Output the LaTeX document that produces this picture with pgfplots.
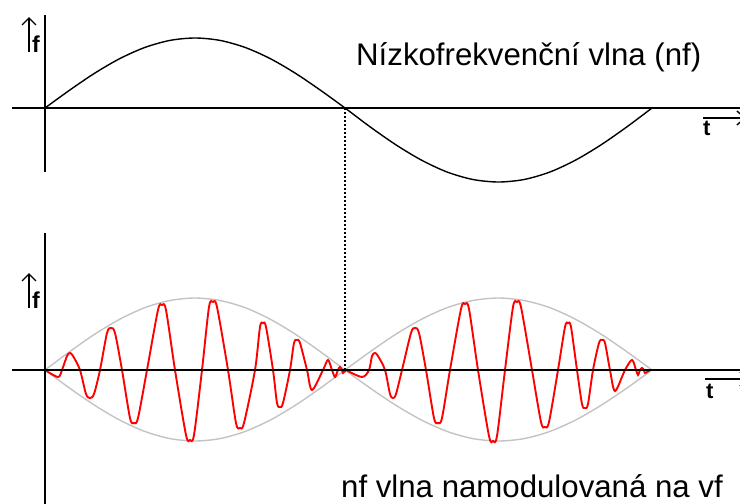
\documentclass[border=0pt]{standalone}
\usepackage{pgfplots}
\pgfplotsset{compat=1.18}
\usetikzlibrary{arrows.meta}
\usepackage{fontspec}
\setmainfont{Liberation Sans}
\definecolor{envgray}{RGB}{195,195,195}
\begin{document}
\begin{tikzpicture}
\useasboundingbox (0,0) rectangle (740pt,504pt);
\begin{axis}[at={(0,0)}, anchor=south west, x=1pt, y=1pt, y dir=reverse,
  xmin=0, xmax=740, ymin=0, ymax=504, hide axis, scale only axis, clip=true]
% envelope (gray)
\addplot[envgray, line width=1.4pt, smooth] coordinates {(45,370)(70,351.4)(95,334)(120,319.1)(145,307.6)(170,300.5)(195,298)(220,300.5)(245,307.6)(270,319.1)(295,334)(320,351.4)(345,370)};
\addplot[envgray, line width=1.4pt, smooth] coordinates {(345,370)(370.6,351.4)(396.2,334)(421.8,319.1)(447.3,307.6)(472.9,300.5)(498.5,298)(524.1,300.5)(549.7,307.6)(575.2,319.1)(600.8,334)(626.4,351.4)(652,370)};
\addplot[envgray, line width=1.4pt, smooth] coordinates {(45,370)(70,388.4)(95,405.5)(120,420.2)(145,431.5)(170,438.6)(195,441)(220,438.6)(245,431.5)(270,420.2)(295,405.5)(320,388.4)(345,370)};
\addplot[envgray, line width=1.4pt, smooth] coordinates {(345,370)(370.6,388.4)(396.2,405.5)(421.8,420.2)(447.3,431.5)(472.9,438.6)(498.5,441)(524.1,438.6)(549.7,431.5)(575.2,420.2)(600.8,405.5)(626.4,388.4)(652,370)};
% modulated carrier (red)
\addplot[red, line width=1.9pt, smooth] coordinates {(45,370)(58,377)(62,370)(67,356)(70,353)(73,356)(80,370)(86,394)(90,398)(94,394)(100,370)(107,333)(111,328)(115,333)(122,370)(130,418)(134,423)(138,418)(147,370)(158,310)(162,305)(166,310)(175,370)(186,435)(190,440)(194,435)(202,370)(209,307)(213,302)(217,307)(228,370)(236,423)(240,428)(244,423)(255,370)(260,327)(263,323)(266,327)(273,370)(277,403)(280,407)(283,403)(290,370)(294,343)(297,340)(300,343)(307,370)(312,390)(323,370)(328,360)(332,370)(335,377)(338,370)(340,367)(342,370)(343,373)(346,370)};
\addplot[red, line width=1.9pt, smooth] coordinates {(346,370)(362,377)(369,370)(372,356)(375,353)(378,356)(385,370)(390,394)(393,398)(396,394)(402,370)(411,333)(415,328)(419,333)(426,370)(434,418)(438,423)(442,418)(450,370)(461,309)(465,304)(469,309)(478,370)(489,436)(493,441)(497,436)(505,370)(513,307)(517,302)(521,307)(532,370)(541,422)(545,427)(549,422)(558,370)(565,327)(568,323)(571,327)(577,370)(582,404)(585,408)(588,404)(593,370)(599,343)(602,340)(605,343)(610,370)(615,391)(625,370)(632,360)(636,370)(638,375)(640,370)(642,368)(644,370)(645,373)(650,370)};
% low-frequency sine (black)
\addplot[black, line width=1.4pt, smooth] coordinates {(45,108)(70,89.9)(95,73)(120,58.5)(145,47.4)(170,40.4)(195,38)(220,40.4)(245,47.4)(270,58.5)(295,73)(320,89.9)(345,108)(370.6,127.2)(396.2,145)(421.8,160.3)(447.3,172.1)(472.9,179.5)(498.5,182)(524.1,179.5)(549.7,172.1)(575.2,160.3)(600.8,145)(626.4,127.2)(652,108)};
% dotted connector
\addplot[black, line width=1.4pt, dash pattern=on 2pt off 2pt] coordinates {(345,108)(345,370)};
% axes
\addplot[black, line width=2pt] coordinates {(12,108)(740,108)};
\addplot[black, line width=2pt] coordinates {(45,15)(45,172)};
\addplot[black, line width=2pt] coordinates {(12,370)(740,370)};
\addplot[black, line width=2pt] coordinates {(45,233)(45,504)};
% axis label arrows
\addplot[black, line width=1.4pt, -{Straight Barb[length=7pt,width=14pt]}] coordinates {(29,52)(29,17)};
\addplot[black, line width=1.4pt, -{Straight Barb[length=7pt,width=14pt]}] coordinates {(29,308)(29,273)};
\addplot[black, line width=1.4pt, -{Straight Barb[length=8pt,width=14pt]}] coordinates {(703,118)(746,118)};
\addplot[black, line width=1.4pt, -{Straight Barb[length=8pt,width=14pt]}] coordinates {(705,379)(749,379)};
% labels
\node[anchor=base west, inner sep=0, font=\fontsize{23}{26}\selectfont\bfseries] at (axis cs:32,52) {f};
\node[anchor=base west, inner sep=0, font=\fontsize{23}{26}\selectfont\bfseries] at (axis cs:32,308) {f};
\node[anchor=base west, inner sep=0, font=\fontsize{22}{26}\selectfont\bfseries] at (axis cs:703,135) {t};
\node[anchor=base west, inner sep=0, font=\fontsize{22}{26}\selectfont\bfseries] at (axis cs:706,398) {t};
\node[anchor=base west, inner sep=0, font=\fontsize{31.2}{36}\selectfont] at (axis cs:356,65) {Nízkofrekvenční vlna (nf)};
\node[anchor=base west, inner sep=0, font=\fontsize{31.2}{36}\selectfont] at (axis cs:341,497) {nf vlna namodulovaná na vf};
\end{axis}
\end{tikzpicture}
\end{document}
